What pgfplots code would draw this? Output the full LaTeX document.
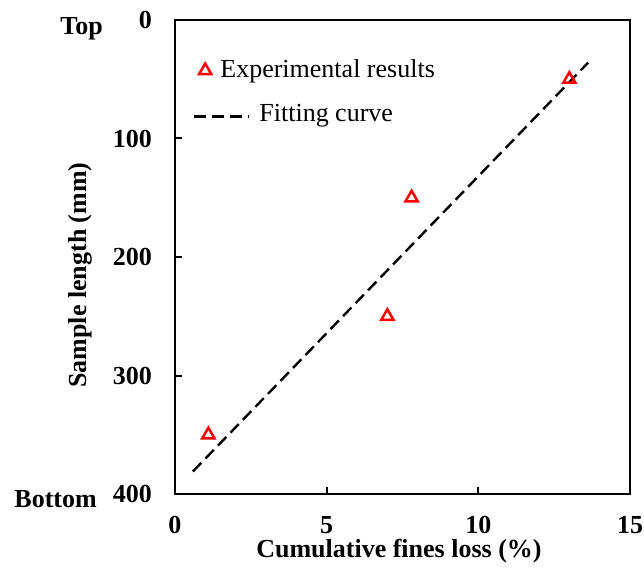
\documentclass[border=0pt]{standalone}
\usepackage{pgfplots}
\pgfplotsset{compat=1.18}
\usepackage{fontspec}
\setmainfont{Liberation Serif}
\newcommand\bigf{\fontsize{26}{31}\selectfont}
\pgfplotsset{
  mylegmark/.style={legend image code/.code={\draw[##1] plot coordinates {(11pt,6.5pt)};}},
  mylegline/.style={legend image code/.code={\draw[##1] (0pt,5pt) -- (55pt,5pt);}},
}
\begin{document}
\begin{tikzpicture}
\useasboundingbox (-175pt,-75pt) rectangle (469pt,494pt);
\begin{axis}[
  at={(0pt,0pt)}, anchor=south west,
  scale only axis, width=455pt, height=474pt,
  xmin=0, xmax=15, ymin=0, ymax=400,
  y dir=reverse,
  xtick={0,5,10,15}, ytick={0,100,200,300,400},
  xtick pos=left, ytick pos=left,
  tick align=inside,
  major tick length=7pt,
  axis line style={line width=2pt},
  every tick/.style={black, line width=2pt},
  /pgf/number format/assume math mode=true,
  xticklabel style={font=\bigf\bfseries, anchor=center, inner sep=0pt, yshift=-31pt},
  yticklabel style={font=\bigf\bfseries, anchor=east, inner sep=0pt, xshift=-23pt},
  xlabel={Cumulative fines loss (\%)},
  ylabel={Sample length (mm)},
  xlabel style={at={(axis description cs:0.4923,-0.1350)}, anchor=base, font=\bigf\bfseries},
  ylabel style={at={(axis description cs:-0.1934,0.462)}, anchor=base, font=\bigf\bfseries},
  legend style={draw=none, fill=none, at={(0,1)}, anchor=north west,
    xshift=18pt, yshift=-39pt, inner sep=0pt, outer sep=0pt,
    row sep=25.6pt, column sep=9pt,
    nodes={inner sep=0pt, anchor=base west, font=\bigf}},
]
\addplot[only marks, mark=triangle, mark size=7pt, red, mark options={line width=2.5pt, solid}, mylegmark]
  coordinates {(1.1,350) (7.0,250) (7.8,150) (13.0,50)};
\addlegendentry{\hspace{-39pt}Experimental results}
\addplot[black, line width=2.4pt, dash pattern=on 12pt off 6pt, mylegline]
  coordinates {(0.59,381) (13.62,36)};
\addlegendentry{Fitting curve}
\end{axis}
\node[font=\bigf\bfseries, anchor=base east, inner sep=0pt] at (-72pt,459pt) {Top};
\node[font=\bigf\bfseries, anchor=base east, inner sep=0pt] at (-78pt,-14pt) {Bottom};
\end{tikzpicture}
\end{document}
